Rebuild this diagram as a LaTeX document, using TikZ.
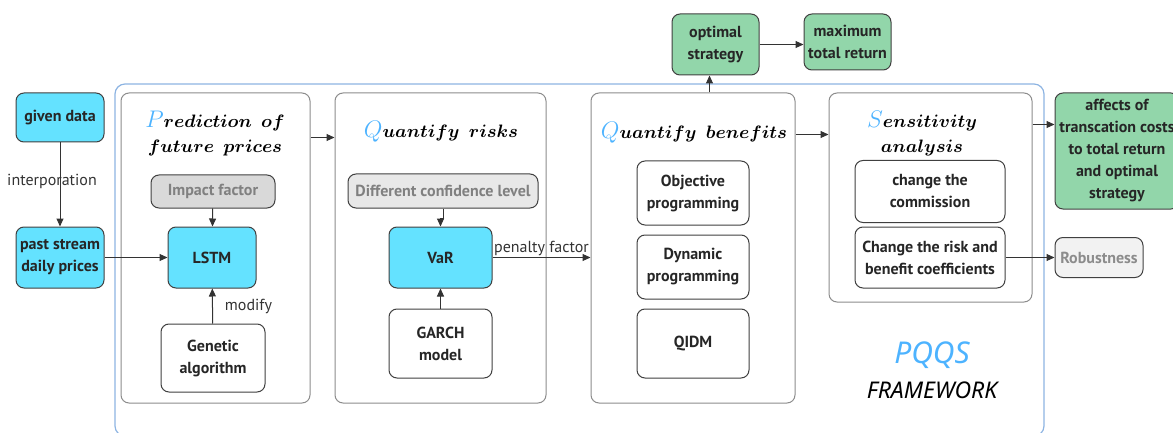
\documentclass[tikz,border=0pt]{standalone}
\usepackage{bm}
\usepackage{fontspec}
\setmainfont{PT Sans}
\newfontfamily\handfont{Noto Sans}
\usetikzlibrary{arrows.meta}

\definecolor{boxcyan}{RGB}{100,226,255}
\definecolor{boxgreen}{RGB}{146,214,170}
\definecolor{titleblue}{RGB}{77,179,255}
\definecolor{frameblue}{RGB}{141,180,226}
\definecolor{impactgray}{RGB}{217,217,217}
\definecolor{levelgray}{RGB}{232,232,232}
\definecolor{robustgray}{RGB}{242,242,242}

\newcommand{\bigfirst}[1]{{\fontsize{12.5}{12}\selectfont$\color{titleblue}#1$}}

\begin{document}
\begin{tikzpicture}[x=0.5pt, y=-0.5pt,
    panel/.style={draw=black!45, rounded corners=4pt, line width=0.5pt, inner sep=0pt},
    blk/.style={draw=black!75, rounded corners=4pt, line width=0.5pt, inner sep=0pt,
        align=center, text=black!85, font=\bfseries\fontsize{8}{11}\selectfont},
    cyanbox/.style={blk, fill=boxcyan},
    greenbox/.style={blk, fill=boxgreen},
    whitebox/.style={blk, fill=white},
    graybox/.style={blk, fill=impactgray, text=black!50},
    ttl/.style={align=center, font=\fontsize{8.8}{12.5}\selectfont},
    lbl/.style={text=black!80, font=\fontsize{8}{10}\selectfont, inner sep=1pt},
    arr/.style={-{Triangle[length=4pt,width=3.5pt]}, draw=black!80, line width=0.5pt}]
            \useasboundingbox (0,0) rectangle (1173,433);

            % outer frame
            \draw[frameblue, line width=0.6pt, rounded corners=5pt] (115,84) rectangle (1044,436);

            % inputs
            \node[cyanbox, minimum width=44pt, minimum height=24.5pt] at (60,117.5) (given) {given data};
            \node[cyanbox, minimum width=44pt, minimum height=30.5pt] at (60,257.5) (past) {past stream\\daily prices};

            % prediction
            \node[panel, minimum width=94.5pt, minimum height=155pt] at (215.5,248) (pred) {};
            \node[ttl] at (215,133.5) (predt) {\bigfirst{P}$\bm{rediction\ \ of}$\\$\bm{future\ \ prices}$};
            \node[graybox, minimum width=62pt, minimum height=16.5pt] at (213,191.5) (impact) {Impact factor};
            \node[cyanbox, minimum width=44pt, minimum height=30.5pt] at (212,257.5) (lstm) {LSTM};
            \node[whitebox, minimum width=52pt, minimum height=34pt] at (213,358) (genetic) {Genetic\\algorithm};

            % risks
            \node[panel, minimum width=105.5pt, minimum height=155pt] at (440.5,248) (risk) {};
            \node[ttl] at (441,132) (riskt) {\bigfirst{Q}$\bm{uantify\ \ risks}$};
            \node[blk, fill=levelgray, text=black!50, minimum width=95pt, minimum height=17pt] at (443,191) (conf) {Different confidence level};
            \node[cyanbox, minimum width=51.5pt, minimum height=30.5pt] at (440.5,257.5) (var) {VaR};
            \node[whitebox, minimum width=51.5pt, minimum height=34.5pt] at (440.5,343.5) (garch) {GARCH\\model};

            % benefits
            \node[panel, minimum width=102pt, minimum height=155pt] at (693,248) (bene) {};
            \node[ttl] at (694,133) (benet) {\bigfirst{Q}$\bm{uantify\ \ benefits}$};
            \node[whitebox, minimum width=56pt, minimum height=32pt] at (693,193) (obj) {Objective\\programming};
            \node[whitebox, minimum width=56pt, minimum height=32pt] at (693,267) (dyn) {Dynamic\\programming};
            \node[whitebox, minimum width=56pt, minimum height=34.5pt] at (693,343.5) (qidm) {QIDM};

            % sensitivity
            \node[panel, minimum width=101.5pt, minimum height=104.5pt] at (930.5,197.5) (sens) {};
            \node[ttl] at (922,134) (senst) {\bigfirst{S}$\bm{ensitivity}$\\$\bm{analysis}$};
            \node[whitebox, minimum width=75pt, minimum height=31pt] at (930,191.5) (comm) {change the\\commission};
            \node[whitebox, minimum width=75pt, minimum height=30.5pt] at (930,257.5) (riskc) {Change the risk and\\benefit coefficients};

            % outputs
            \node[greenbox, minimum width=43.5pt, minimum height=30.5pt] at (715.5,44.5) (opt) {optimal\\strategy};
            \node[greenbox, minimum width=43.5pt, minimum height=28pt] at (847.5,42) (maxr) {maximum\\total return};
            \node[greenbox, minimum width=62pt, minimum height=58pt] at (1117,151) (affects) {affects of\\transcation costs\\to total return\\and optimal\\strategy};
            \node[blk, fill=robustgray, text=black!45, minimum width=44pt, minimum height=20pt] at (1099,257.5) (robust) {Robustness};

            % framework name
            \node[text=titleblue, font=\handfont\itshape\fontsize{15}{15}\selectfont] at (932,355) (pqqs) {PQQS};
            \node[font=\handfont\itshape\fontsize{11.5}{11.5}\selectfont] at (932,390) (fw) {FRAMEWORK};

            % connectors
            \draw[arr] (given) -- (past) node[lbl, pos=0.46, xshift=-4pt] {interporation};
            \draw[arr] (past) -- (lstm);
            \draw[arr] (impact) -- (lstm);
            \draw[arr] (genetic) -- (lstm) node[lbl, midway, right=5pt] {modify};
            \draw[arr] ([yshift=-22.5pt]pred.north east) -- ([yshift=-22.5pt]risk.north west);
            \draw[arr] (conf.south) -- ++(0,-5pt) -| (var.north);
            \draw[arr] (garch) -- (var);
            \draw[arr] (var.east) -- (var.east -| bene.west) node[lbl, midway, above, inner sep=0.5pt] {penalty factor};
            \coordinate (up) at ([xshift=-3pt]opt.south);
            \draw[arr] (bene.north -| up) -- (up);
            \draw[arr] (opt.east) -- (opt.east -| maxr.west);
            \draw[arr] ([yshift=-21pt]bene.north east) -- ([yshift=-21pt]sens.north west);
            \draw[arr] ([yshift=-16pt]sens.north east) -- ([yshift=-16pt]sens.north east -| affects.west);
            \draw[arr] (riskc.east) -- (riskc.east -| robust.west);
        \end{tikzpicture}
\end{document}
